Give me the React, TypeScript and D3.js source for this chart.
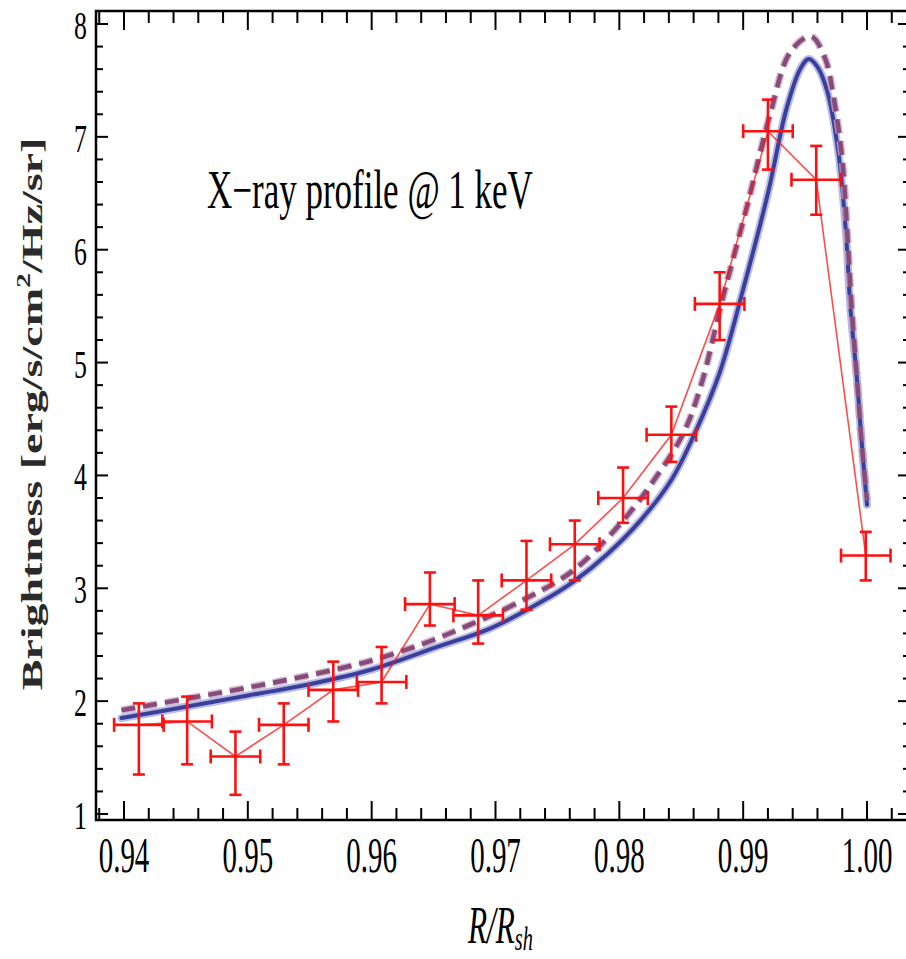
import React from 'react';
import * as d3 from 'd3';

// Data points (binned profile) with asymmetric errors
const ptX = [0.9412, 0.9451, 0.9490, 0.9529, 0.9569, 0.9608, 0.9647, 0.9686, 0.9725, 0.9764, 0.9803, 0.9842, 0.9881, 0.9920, 0.9959, 0.9999];
const ptY = [1.79, 1.82, 1.51, 1.79, 2.10, 2.17, 2.86, 2.76, 3.07, 3.39, 3.80, 4.36, 5.52, 7.05, 6.62, 3.29];
const ptHi = [1.98, 2.04, 1.73, 1.98, 2.35, 2.48, 3.14, 3.07, 3.42, 3.60, 4.07, 4.61, 5.80, 7.33, 6.92, 3.50];
const ptLo = [1.35, 1.44, 1.17, 1.44, 1.82, 1.98, 2.67, 2.51, 2.81, 3.07, 3.58, 4.12, 5.20, 6.71, 6.31, 3.07];
const ptXErr = 0.002;

// Model curve (solid blue)
const solidX = [0.9398, 0.9450, 0.9500, 0.9550, 0.9600, 0.9650, 0.9696, 0.9737, 0.9763, 0.9790, 0.9817, 0.9842, 0.9860, 0.9881, 0.9900, 0.9920, 0.9935, 0.9946, 0.9953, 0.9960, 0.9968, 0.9977, 0.9983, 0.99865, 0.9992, 0.9996, 1.0000];
const solidY = [1.85, 1.95, 2.05, 2.15, 2.28, 2.47, 2.645, 2.88, 3.06, 3.30, 3.60, 3.96, 4.35, 4.91, 5.65, 6.50, 7.25, 7.60, 7.69, 7.62, 7.40, 6.85, 6.15, 5.50, 4.84, 4.25, 3.74];

// Model curve (dashed purple)
const dashX = [0.9398, 0.9450, 0.9500, 0.9550, 0.9600, 0.9642, 0.9680, 0.9723, 0.9763, 0.9803, 0.9830, 0.9852, 0.9866, 0.9883, 0.9903, 0.9922, 0.9938, 0.99547, 0.9966, 0.9973, 0.9980, 0.9984, 0.99875, 0.9992, 0.9996, 1.0000];
const dashY = [1.92, 2.02, 2.12, 2.23, 2.36, 2.51, 2.68, 2.90, 3.16, 3.60, 3.99, 4.38, 4.80, 5.55, 6.38, 7.21, 7.75, 7.89, 7.70, 7.35, 6.80, 6.15, 5.50, 4.84, 4.25, 3.78];

const xTickVals = [0.94, 0.95, 0.96, 0.97, 0.98, 0.99, 1.0];
const xTickLabels = ['0.94', '0.95', '0.96', '0.97', '0.98', '0.99', '1.00'];
const yTickVals = [1, 2, 3, 4, 5, 6, 7, 8];
const yTickLabels = ['1', '2', '3', '4', '5', '6', '7', '8'];

const W = 906;
const H = 959;
const L = 96, R = 910, T = 11, B = 820;

export default function App() {
  const x = d3.scaleLinear().domain([0.937739, 1.003472]).range([L, R]);
  const y = d3.scaleLinear().domain([0.94684, 8.1152]).range([B, T]);

  const line = d3.line<[number, number]>()
    .x(d => x(d[0]))
    .y(d => y(d[1]))
    .curve(d3.curveCatmullRom.alpha(0.5));

  const solidPath = line(solidX.map((v, i) => [v, solidY[i]]) as [number, number][]) || '';
  const dashPath = line(dashX.map((v, i) => [v, dashY[i]]) as [number, number][]) || '';
  const connPath = d3.line<[number, number]>().x(d => x(d[0])).y(d => y(d[1]))(ptX.map((v, i) => [v, ptY[i]]) as [number, number][]) || '';

  // minor ticks
  const xMinor: number[] = [];
  for (let k = 0; k <= 40; k++) {
    const v = 0.936 + k * 0.002;
    if (v >= x.domain()[0] && v <= x.domain()[1]) xMinor.push(+v.toFixed(4));
  }
  const yMinor: number[] = [];
  for (let k = 0; k <= 40; k++) {
    const v = 1 + k * 0.2;
    if (v <= y.domain()[1]) yMinor.push(+v.toFixed(2));
  }
  const isMajorX = (v: number) => xTickVals.some(t => Math.abs(t - v) < 1e-6);
  const isMajorY = (v: number) => yTickVals.some(t => Math.abs(t - v) < 1e-6);

  const serif = '"Liberation Serif", "Times New Roman", serif';
  const red = '#ff1010';
  const cap = 6;

  return (
    <svg width={W} height={H} style={{ position: 'absolute', left: 0, top: 0, background: '#fff' }}>
      <rect x={0} y={0} width={W} height={H} fill="#fff" />
      {/* curves */}
      <path d={solidPath} fill="none" stroke="#a9acdc" strokeWidth={8} strokeLinecap="round" opacity={0.8} />
      <path d={solidPath} fill="none" stroke="#3a3f9b" strokeWidth={4} strokeLinecap="round" />
      <path d={dashPath} fill="none" stroke="#c9a3bf" strokeWidth={7.5} strokeDasharray="14,8" opacity={0.8} />
      <path d={dashPath} fill="none" stroke="#864a7b" strokeWidth={4.5} strokeDasharray="14,8" />

      {/* data */}
      <path d={connPath} fill="none" stroke={red} strokeWidth={1.6} opacity={0.75} />
      {ptX.map((v, i) => {
        const cx = x(v), cy = y(ptY[i]);
        const x0 = x(v - ptXErr), x1 = x(v + ptXErr);
        const yt = y(ptHi[i]), yb = y(ptLo[i]);
        return (
          <g key={i} stroke={red} strokeWidth={2.6} fill="none">
            <line x1={x0} y1={cy} x2={x1} y2={cy} />
            <line x1={cx} y1={yt} x2={cx} y2={yb} />
            <line x1={cx - cap} y1={yt} x2={cx + cap} y2={yt} />
            <line x1={cx - cap} y1={yb} x2={cx + cap} y2={yb} />
            <line x1={x0} y1={cy - 7} x2={x0} y2={cy + 7} />
            <line x1={x1} y1={cy - 7} x2={x1} y2={cy + 7} />
          </g>
        );
      })}

      {/* frame */}
      <rect x={L} y={T} width={R - L} height={B - T} fill="none" stroke="#000" strokeWidth={2.5} />
      {xMinor.map((v, i) => {
        const major = isMajorX(v);
        const len = major ? 19 : 12;
        const px = x(v);
        return (
          <g key={'xt' + i} stroke="#000" strokeWidth={2}>
            <line x1={px} y1={B} x2={px} y2={B - len} />
            <line x1={px} y1={T} x2={px} y2={T + len} />
          </g>
        );
      })}
      {yMinor.map((v, i) => {
        const major = isMajorY(v);
        const len = major ? 12 : 7;
        const py = y(v);
        return (
          <g key={'yt' + i} stroke="#000" strokeWidth={2}>
            <line x1={L} y1={py} x2={L + len} y2={py} />
            <line x1={R} y1={py} x2={R - len} y2={py} />
          </g>
        );
      })}

      {/* tick labels */}
      {xTickVals.map((v, i) => (
        <text key={'xl' + i} transform={`translate(${x(v)},872) scale(0.58,1)`} textAnchor="middle"
          fontFamily={serif} fontSize={50} fill="#000">{xTickLabels[i]}</text>
      ))}
      {yTickVals.map((v, i) => (
        <text key={'yl' + i} transform={`translate(87,${y(v) + 15}) scale(0.63,1)`} textAnchor="end"
          fontFamily={serif} fontSize={41} fill="#000">{yTickLabels[i]}</text>
      ))}

      {/* title */}
      <text transform="translate(207,208) scale(0.648,1)" fontFamily={serif} fontSize={54} fill="#000">X−ray profile @ 1 keV</text>

      {/* axis labels */}
      <text transform="translate(468,943) scale(0.6,1)" fontFamily={serif} fontSize={52} fontStyle="italic" fill="#000">
        R/R<tspan fontSize={34} dy={7}>sh</tspan>
      </text>
      <g transform="translate(42,414) scale(0.65,1) rotate(-90)">
        <text textAnchor="middle" fontFamily={serif} fontSize={46} fontWeight="bold" fill="#2a2a2a">
          Brightness [erg/s/cm<tspan fontSize={30} dy={-18}>2</tspan><tspan dy={18}>/Hz/sr]</tspan>
        </text>
      </g>
    </svg>
  );
}
